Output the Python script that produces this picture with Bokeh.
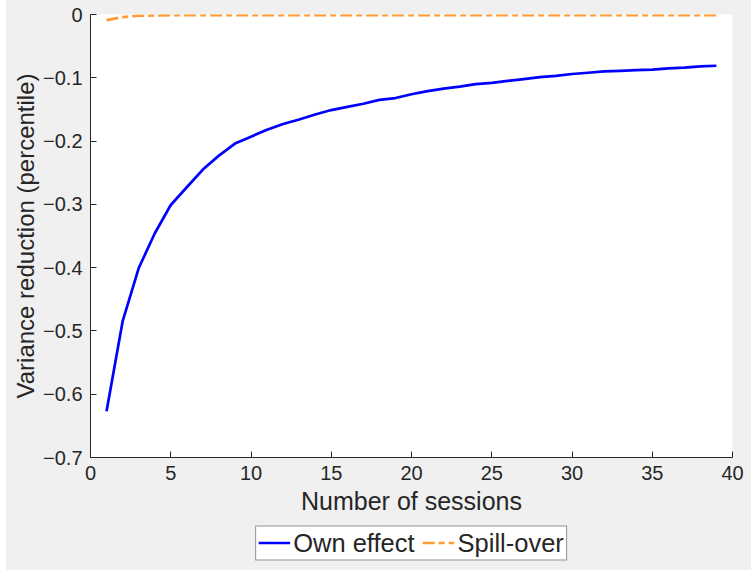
from bokeh.plotting import figure
from bokeh.layouts import column
from bokeh.models import Legend, LegendItem, FixedTicker, Range1d
from bokeh.embed import file_html
from bokeh.resources import INLINE

# Sessions and per-session variance reduction
sessions = list(range(1, 40))
own_effect = [
    -0.627, -0.485, -0.401, -0.346, -0.301, -0.273, -0.245, -0.223, -0.204, -0.193,
    -0.182, -0.173, -0.166, -0.158, -0.151, -0.146, -0.141, -0.135, -0.132, -0.126,
    -0.121, -0.117, -0.114, -0.110, -0.108, -0.105, -0.102, -0.099, -0.097, -0.094,
    -0.092, -0.090, -0.089, -0.088, -0.087, -0.085, -0.084, -0.082, -0.081,
]
spill_over = [
    -0.009, -0.004, -0.002, -0.0015, -0.0012, -0.001, -0.001, -0.001, -0.001, -0.001,
    -0.001, -0.001, -0.001, -0.001, -0.001, -0.001, -0.001, -0.001, -0.001, -0.001,
    -0.001, -0.001, -0.001, -0.001, -0.001, -0.001, -0.001, -0.001, -0.001, -0.001,
    -0.001, -0.001, -0.001, -0.001, -0.001, -0.001, -0.001, -0.001, -0.001,
]

x_ticks = [0, 5, 10, 15, 20, 25, 30, 35, 40]
y_ticks = [-0.7, -0.6, -0.5, -0.4, -0.3, -0.2, -0.1, 0.0]
y_tick_labels = ["\u22120.7", "\u22120.6", "\u22120.5", "\u22120.4", "\u22120.3", "\u22120.2", "\u22120.1", "0"]

FONT = "Liberation Sans"
AXIS_COLOR = "#262626"
BG = "#f0f0f0"
OWN_STYLE = dict(line_color="#0000ff", line_width=2.7)
SPILL_STYLE = dict(line_color="#ff9933", line_width=2.7, line_dash="12 4 6 4")

p = figure(
    width=745, height=524,
    x_range=(0, 40), y_range=(-0.7, 0),
    output_backend="svg", toolbar_location=None,
    min_border_left=84, min_border_right=19, min_border_top=14, min_border_bottom=67,
)
p.background_fill_color = "white"
p.border_fill_color = BG
p.outline_line_color = None
p.grid.visible = False

p.line(sessions, own_effect, **OWN_STYLE)
p.line(sessions, spill_over, **SPILL_STYLE)

for ax in (p.xaxis[0], p.yaxis[0]):
    ax.axis_line_color = AXIS_COLOR
    ax.major_tick_line_color = AXIS_COLOR
    ax.major_tick_in = 6
    ax.major_tick_out = 0
    ax.minor_tick_line_color = None
    ax.major_label_text_font = FONT
    ax.major_label_text_font_size = "20px"
    ax.major_label_text_color = AXIS_COLOR
    ax.axis_label_text_font = FONT
    ax.axis_label_text_font_style = "normal"
    ax.axis_label_text_color = AXIS_COLOR

p.xaxis[0].ticker = FixedTicker(ticks=x_ticks)
p.xaxis[0].major_label_overrides = {t: str(t) for t in x_ticks}
p.xaxis[0].major_label_standoff = 8
p.xaxis[0].axis_label = "Number of sessions"
p.xaxis[0].axis_label_text_font_size = "25px"
p.xaxis[0].axis_label_standoff = 4

p.yaxis[0].ticker = FixedTicker(ticks=y_ticks)
p.yaxis[0].major_label_overrides = dict(zip(y_ticks, y_tick_labels))
p.yaxis[0].major_label_standoff = 8
p.yaxis[0].axis_label = "Variance reduction (percentile)"
p.yaxis[0].axis_label_text_font_size = "24px"
p.yaxis[0].axis_label_standoff = 1

# Legend strip under the axes; it plots the same series outside its visible range
leg = figure(
    width=745, height=46,
    x_range=Range1d(0, 40), y_range=Range1d(1, 2),
    x_axis_type=None, y_axis_type=None,
    output_backend="svg", toolbar_location=None,
    min_border_left=84, min_border_right=19, min_border_top=0, min_border_bottom=9,
)
leg.background_fill_color = BG
leg.border_fill_color = BG
leg.outline_line_color = None
leg.grid.visible = False
k_own = leg.line(sessions, own_effect, **OWN_STYLE)
k_spill = leg.line(sessions, spill_over, **SPILL_STYLE)

legend = Legend(
    items=[LegendItem(label="Own effect", renderers=[k_own]),
           LegendItem(label="Spill-over", renderers=[k_spill])],
    orientation="horizontal",
    location="center",
    label_text_font=FONT,
    label_text_font_size="25.5px",
    label_text_color=AXIS_COLOR,
    label_standoff=3,
    label_height=24,
    glyph_width=32,
    glyph_height=24,
    spacing=8,
    padding=2,
    margin=0,
    border_line_color=AXIS_COLOR,
    border_line_width=1,
    background_fill_color="white",
    background_fill_alpha=1.0,
)
leg.add_layout(legend, "center")

page = column(p, leg, spacing=0, margin=(0, 0, 1, 6))
page.background = BG
open("out.html", "w").write(file_html(page, INLINE))
